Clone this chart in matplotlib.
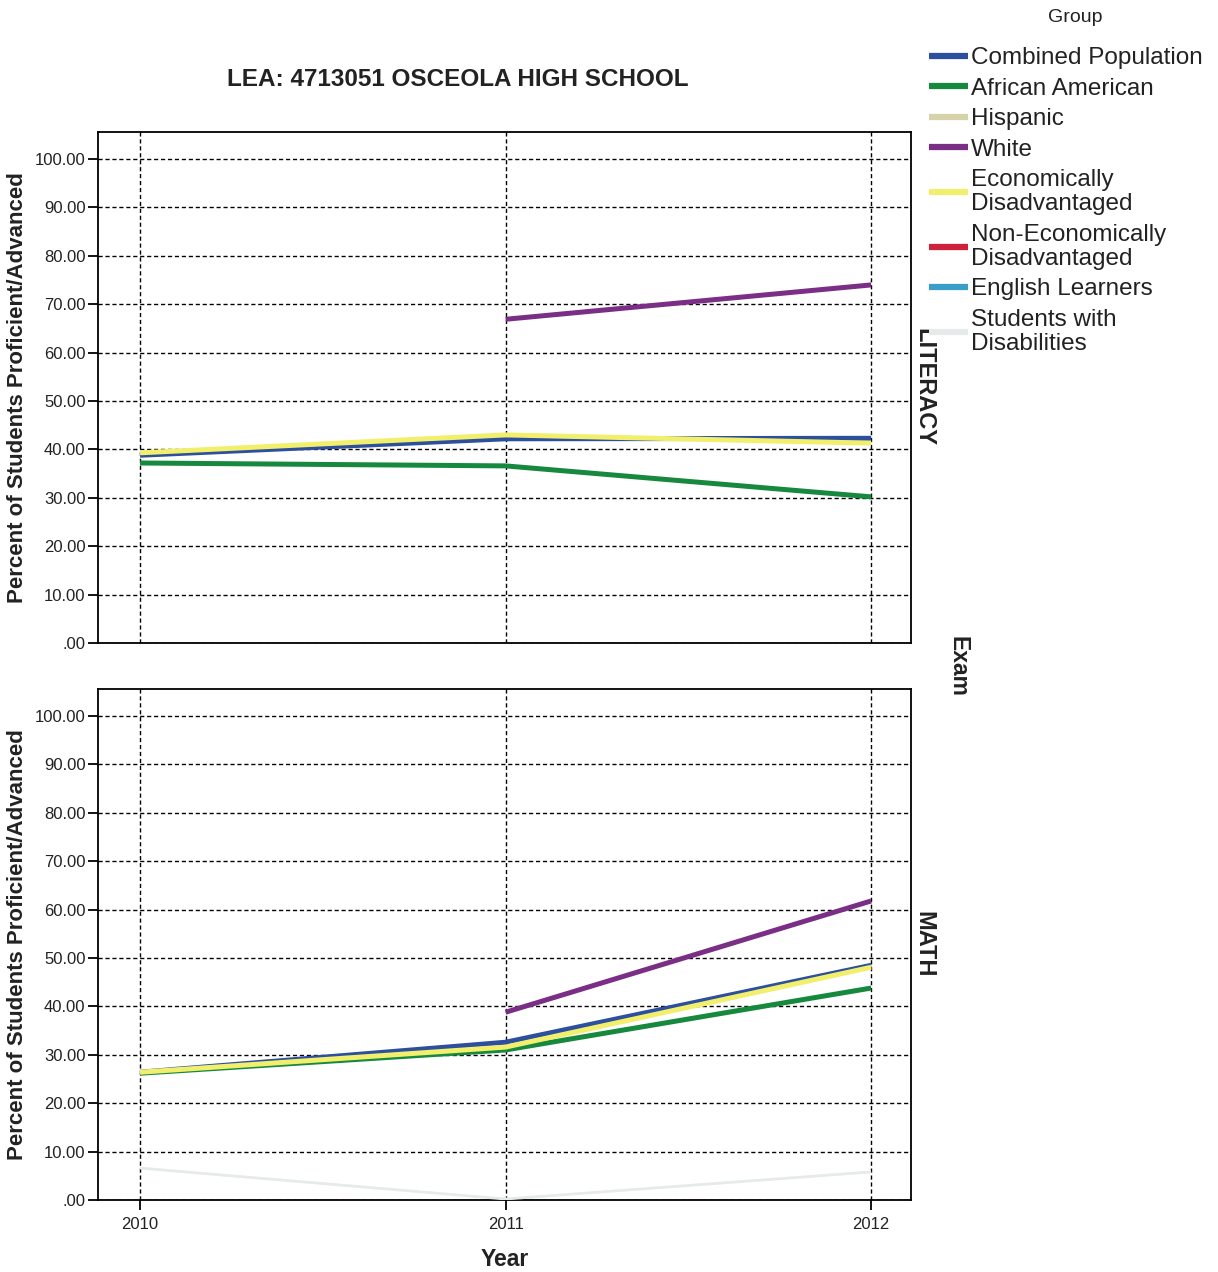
import numpy as np
import matplotlib
matplotlib.use("Agg")
import matplotlib.pyplot as plt

plt.rcParams['font.family'] = ['Liberation Sans', 'DejaVu Sans']

nan = np.nan
years = [2010, 2011, 2012]
groups = ["Combined Population", "African American", "Hispanic", "White",
          "Economically\nDisadvantaged", "Non-Economically\nDisadvantaged",
          "English Learners", "Students with\nDisabilities"]
colors = ["#2c4f9e", "#17893f", "#d6d3aa", "#7a2e85", "#f2ef6c", "#d0213a",
          "#3a9fc8", "#e6eaea"]

literacy_combined = [38.8, 42.2, 42.3]
literacy_african_american = [37.2, 36.6, 30.2]
literacy_hispanic = [nan, nan, nan]
literacy_white = [nan, 66.9, 74.0]
literacy_econ_dis = [39.3, 43.0, 41.3]
literacy_non_econ = [nan, nan, nan]
literacy_ell = [nan, nan, nan]
literacy_swd = [nan, nan, nan]

math_combined = [26.4, 32.6, 48.5]
math_african_american = [26.2, 31.0, 43.8]
math_hispanic = [nan, nan, nan]
math_white = [nan, 38.8, 61.8]
math_econ_dis = [26.4, 31.6, 48.1]
math_non_econ = [nan, nan, nan]
math_ell = [nan, nan, nan]
math_swd = [6.6, 0.2, 5.8]

literacy = [literacy_combined, literacy_african_american, literacy_hispanic, literacy_white,
            literacy_econ_dis, literacy_non_econ, literacy_ell, literacy_swd]
math = [math_combined, math_african_american, math_hispanic, math_white,
        math_econ_dis, math_non_econ, math_ell, math_swd]

W, H = 1218, 1272
fig = plt.figure(figsize=(W / 100, H / 100), dpi=100)

def px_axes(l, t, r, b):
    return fig.add_axes([l / W, 1 - b / H, (r - l) / W, (b - t) / H])

ax1 = px_axes(98, 132, 911, 643)
ax2 = px_axes(98, 689, 911, 1200)

yticks = np.arange(0, 101, 10)
ytlabels = [".00"] + ["%.2f" % v for v in yticks[1:]]

handles = []
for ax, data, panel in [(ax1, literacy, "LITERACY"), (ax2, math, "MATH")]:
    for i, (vals, c, g) in enumerate(zip(data, colors, groups)):
        lw = 2.0 if i == 7 else 3.6
        ln, = ax.plot(years, vals, color=c, lw=lw, label=g, solid_capstyle='butt', zorder=3)
        if ax is ax1:
            handles.append(ln)
    ax.set_xlim(2009.885, 2012.109)
    ax.set_ylim(0, 105.6)
    ax.set_yticks(yticks)
    ax.set_yticklabels(ytlabels, fontsize=12, color='#222222')
    ax.set_xticks(years)
    ax.grid(True, color='black', linestyle=(0, (3, 2)), linewidth=1.0)
    ax.tick_params(axis='both', direction='out', length=7, width=1.3, color='black', pad=2)
    for s in ax.spines.values():
        s.set_linewidth(1.3)
    ax.set_ylabel("Percent of Students Proficient/Advanced", fontsize=16,
                  fontweight='bold', labelpad=5, color='#222222')
    ax.text(1.002, 0.5, panel, transform=ax.transAxes, rotation=270, va='center',
            ha='left', fontsize=17, fontweight='bold', color='#222222')

ax1.tick_params(axis='x', length=0)
ax1.set_xticklabels([])
ax2.set_xticklabels([str(y) for y in years], fontsize=12, color='#222222')
ax2.tick_params(axis='x', pad=5)
ax2.set_xlabel("Year", fontsize=16.5, fontweight='bold', labelpad=12, color='#222222')

fig.text(458 / W, 1 - 80 / H, "LEA: 4713051 OSCEOLA HIGH SCHOOL", ha='center', va='center',
         fontsize=17.5, fontweight='bold', color='#222222')
fig.text(958 / W, 1 - 666 / H, "Exam", rotation=270, ha='center', va='center',
         fontsize=16.5, fontweight='bold', color='#222222')
fig.text(1075 / W, 1 - 17 / H, "Group", ha='center', va='center', fontsize=14,
         color='#222222')

leg = fig.legend(handles=handles, loc='upper left', bbox_to_anchor=(922 / W, 1 - 40 / H),
                 frameon=False, fontsize=17.5, handlelength=1.6, handletextpad=0.1,
                 labelspacing=0.35, borderaxespad=0.0, borderpad=0.3)
for t in leg.get_texts():
    t.set_linespacing(1.12)
    t.set_color('#222222')
for l in leg.get_lines():
    l.set_linewidth(4.5)

fig.savefig("out.png", dpi=100)
